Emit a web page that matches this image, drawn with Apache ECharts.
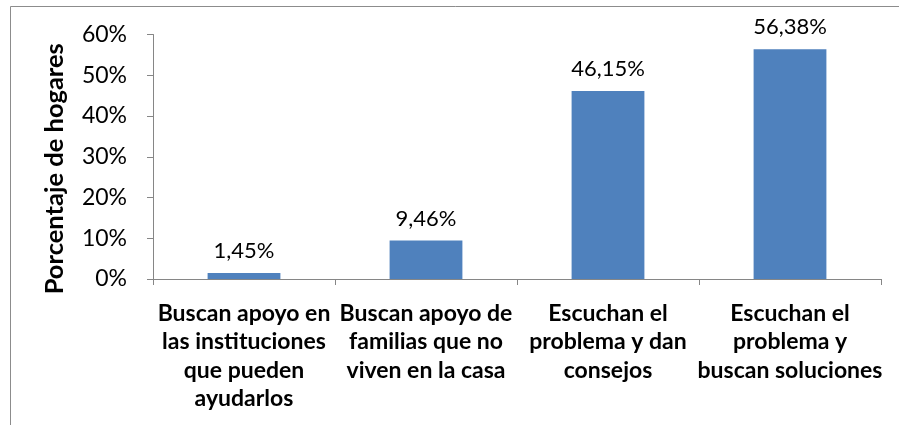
<!DOCTYPE html>
<html><head><meta charset="utf-8">
<script src="https://cdn.jsdelivr.net/npm/echarts@6/dist/echarts.min.js"></script>
<style>html,body{margin:0;padding:0;background:#fff}#c{width:899px;height:425px}</style>
</head><body><div id="c"></div>
<script>
const categories = [
  "Buscan apoyo en\nlas instituciones\nque pueden\nayudarlos",
  "Buscan apoyo de\nfamilias que no\nviven en la casa",
  "Escuchan el\nproblema y dan\nconsejos",
  "Escuchan el\nproblema y\nbuscan soluciones"
];
const values = [1.45, 9.46, 46.15, 56.38];
const yTicks = [0, 10, 20, 30, 40, 50, 60];
const yTitle = "Porcentaje de hogares";

const FONT = "Lato, 'Open Sans', sans-serif";
const chart = echarts.init(document.getElementById('c'), null, {renderer: 'canvas'});
chart.setOption({
  backgroundColor: '#fff',
  animation: false,
  graphic: [{
    type: 'rect', left: 8, top: 4,
    shape: {width: 899, height: 430},
    style: {fill: 'none', stroke: '#8c8c8c', lineWidth: 1}
  }],
  grid: {left: 153, right: 18, top: 34.5, bottom: 146, containLabel: false},
  xAxis: {
    type: 'category',
    data: categories,
    axisLine: {lineStyle: {color: '#868686', width: 1}},
    axisTick: {show: true, length: 6, lineStyle: {color: '#868686'}},
    axisLabel: {
      interval: 0, margin: 20, color: '#000', fontFamily: FONT,
      fontWeight: 'bold', fontSize: 23, lineHeight: 28.5, align: 'center'
    }
  },
  yAxis: {
    type: 'value', min: yTicks[0], max: yTicks[yTicks.length - 1], interval: 10,
    axisLine: {show: true, lineStyle: {color: '#868686', width: 1}},
    axisTick: {show: true, length: 6, lineStyle: {color: '#868686'}},
    splitLine: {show: false},
    axisLabel: {
      margin: 26, color: '#000', fontFamily: FONT, fontSize: 23,
      formatter: v => v + '%'
    },
    name: yTitle, nameLocation: 'middle', nameGap: 85, nameRotate: 90,
    nameTextStyle: {color: '#000', fontFamily: FONT, fontWeight: 'bold', fontSize: 25.5, padding: [0, 24, 0, 0]}
  },
  series: [{
    type: 'bar',
    data: values,
    barWidth: '40%',
    itemStyle: {color: '#4F81BD'},
    label: {
      show: true, position: 'top', distance: 11, color: '#000',
      fontFamily: FONT, fontSize: 22,
      formatter: p => p.value.toFixed(2).replace('.', ',') + '%'
    }
  }]
});
</script></body></html>
